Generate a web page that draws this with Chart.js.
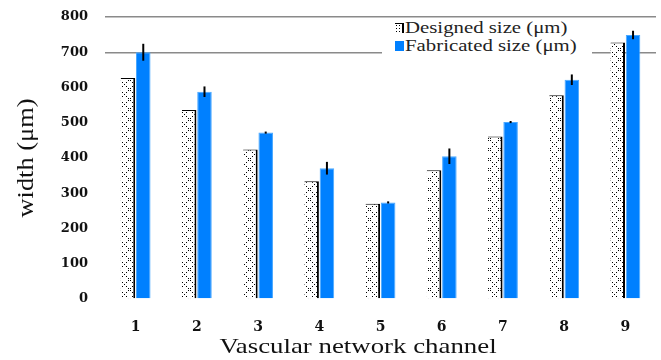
<!DOCTYPE html>
<html>
<head>
<meta charset="utf-8">
<script src="https://cdn.jsdelivr.net/npm/chart.js@4.4.1/dist/chart.umd.min.js"></script>
<style>
  html,body{margin:0;padding:0;background:#fff;}
  #wrap{position:relative;width:661px;height:360px;}
  #legend{position:absolute;left:382px;top:19px;width:210px;height:37px;background:#fff;
    font-family:"Liberation Serif","Times New Roman",serif;font-size:16px;color:#222;}
  .item{position:absolute;left:13px;height:17px;display:flex;align-items:center;white-space:nowrap;}
  .sw{display:inline-block;width:9px;height:10px;box-sizing:border-box;flex:none;}
  .sw1{border-right:2px solid #000;border-top:1px solid #000;background-color:#fff;
    background-image:radial-gradient(circle,#000 0.7px,transparent 0.9px);background-size:3px 3px;}
  .sw2{background:#0080ff;}
  .tx{display:inline-block;transform:scaleX(1.3);transform-origin:left center;margin-left:1px;}
</style>
</head>
<body>
<div id="wrap">
  <canvas id="c" width="661" height="360"></canvas>
  <div id="legend">
    <div class="item" style="top:0px"><span class="sw sw1"></span><span class="tx">Designed size (μm)</span></div>
    <div class="item" style="top:18px"><span class="sw sw2"></span><span class="tx">Fabricated size (μm)</span></div>
  </div>
</div>
<script>
const categories = ["1","2","3","4","5","6","7","8","9"];
const designedSize = [627, 536, 424, 334, 270, 365, 461, 578, 728];
const fabricatedSize = [700, 588, 472, 371, 274, 405, 502, 622, 749];
const fabricatedError = [24, 15, 3, 18, 3, 22, 3, 15, 12];
const yTicks = [0, 100, 200, 300, 400, 500, 600, 700, 800];
const gridValues = [700, 800];
const xTitle = 'Vascular network channel';
const yTitle = 'width (μm)';

function makePattern(){
  const t = document.createElement('canvas');
  t.width = 10; t.height = 10;
  const g = t.getContext('2d');
  g.fillStyle = '#fff'; g.fillRect(0,0,10,10);
  g.fillStyle = '#000';
  [[0,0],[2,2],[4,4],[6,6],[8,8],[8,0],[6,2],[2,6],[0,8]].forEach(p=>g.fillRect(p[0],p[1],1,1));
  return document.getElementById('c').getContext('2d').createPattern(t,'repeat');
}
const hatch = makePattern();

const extras = {
  id:'extras',
  afterDatasetsDraw(chart){
    const meta = chart.getDatasetMeta(1);
    const y = chart.scales.y;
    const ctx = chart.ctx;
    ctx.save();
    ctx.strokeStyle = '#000';
    ctx.lineWidth = 2;
    meta.data.forEach((bar,i)=>{
      const v = fabricatedSize[i], e = fabricatedError[i];
      ctx.beginPath();
      ctx.moveTo(bar.x, y.getPixelForValue(v+e));
      ctx.lineTo(bar.x, y.getPixelForValue(v-e));
      ctx.stroke();
    });
    ctx.restore();
  },
  afterDraw(chart){
    const ctx = chart.ctx;
    ctx.save();
    ctx.fillStyle = '#111';
    ctx.textAlign = 'center';
    ctx.textBaseline = 'middle';
    ctx.font = '22px "Liberation Serif", serif';
    ctx.translate(358, 347);
    ctx.scale(1.22, 1);
    ctx.fillText(xTitle, 0, 0);
    ctx.restore();
    ctx.save();
    ctx.fillStyle = '#111';
    ctx.textAlign = 'center';
    ctx.textBaseline = 'middle';
    ctx.font = '24px "Liberation Serif", serif';
    ctx.translate(27, 158);
    ctx.rotate(-Math.PI/2);
    ctx.scale(1.1, 1);
    ctx.fillText(yTitle, 0, 0);
    ctx.restore();
  }
};

new Chart(document.getElementById('c'), {
  type:'bar',
  data:{
    labels: categories,
    datasets:[
      {label:'Designed size (μm)', data: designedSize, backgroundColor: hatch,
       borderColor:'#000', borderWidth:{top:1,right:2,left:0,bottom:0}, borderSkipped:false,
       barPercentage:0.95, categoryPercentage:0.5},
      {label:'Fabricated size (μm)', data: fabricatedSize, backgroundColor:'#0080ff',
       borderColor:'#49a8ff', borderWidth:1, borderSkipped:'bottom',
       barPercentage:0.95, categoryPercentage:0.5}
    ]
  },
  options:{
    responsive:false,
    animation:false,
    devicePixelRatio:1,
    layout:{padding:{top:17,right:5,left:0,bottom:0}},
    plugins:{legend:{display:false}, tooltip:{enabled:false}},
    scales:{
      x:{
        grid:{display:false, drawTicks:false},
        border:{display:false},
        ticks:{padding:20, color:'#111', font:{family:'"DejaVu Serif", serif', size:14, weight:'bold'}},
        title:{display:false, text:xTitle},
        afterFit(s){ s.height = 61; s.paddingLeft = 0; s.paddingRight = 0; }
      },
      y:{
        min:0, max:800,
        afterBuildTicks(s){ s.ticks = yTicks.map(v=>({value:v})); },
        grid:{drawTicks:false, color:(c)=> gridValues.includes(c.tick && c.tick.value) ? '#8a8a8a' : 'rgba(0,0,0,0)', lineWidth:1.5},
        border:{display:false},
        ticks:{padding:17, color:'#111', font:{family:'"DejaVu Serif", serif', size:13, weight:'bold'}},
        title:{display:false, text:yTitle},
        afterFit(s){ s.width = 105; s.paddingTop = 0; s.paddingBottom = 0; }
      }
    }
  },
  plugins:[extras]
});
</script>
</body>
</html>
